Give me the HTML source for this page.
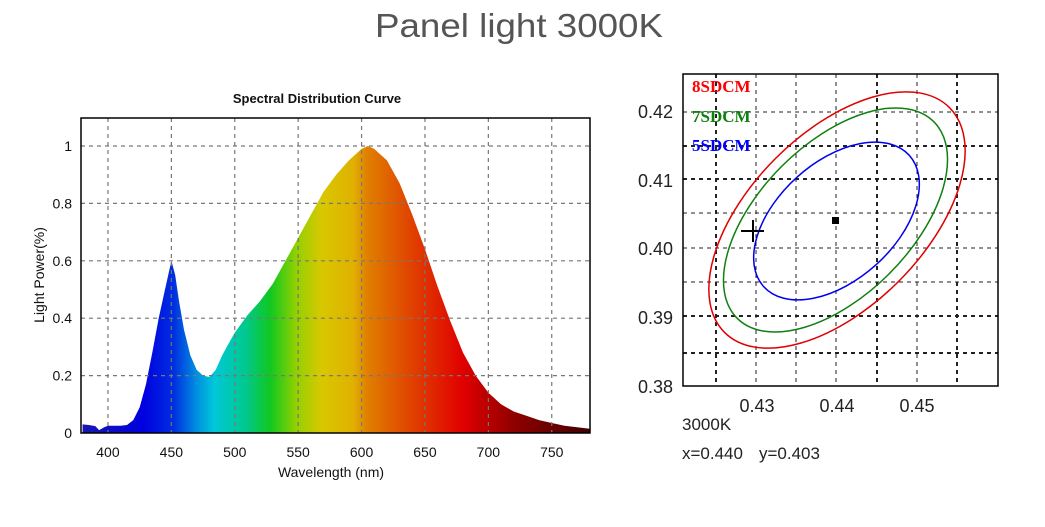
<!DOCTYPE html>
<html><head><meta charset="utf-8"><style>
body{margin:0;background:#fff;width:1045px;height:527px;overflow:hidden}
svg{display:block}
text{font-family:"Liberation Sans",sans-serif}
text.sf{font-family:"Liberation Serif",serif}
</style></head><body>
<svg id="s" width="1045" height="527" xmlns="http://www.w3.org/2000/svg">
<defs>
<linearGradient id="sp" x1="82.6" x2="590" y1="0" y2="0" gradientUnits="userSpaceOnUse">
<stop offset="0" stop-color="#1818b0"/>
<stop offset="0.12" stop-color="#0000e0"/>
<stop offset="0.18" stop-color="#0030e0"/>
<stop offset="0.225" stop-color="#0090e0"/>
<stop offset="0.26" stop-color="#00c8d8"/>
<stop offset="0.32" stop-color="#00c890"/>
<stop offset="0.37" stop-color="#10c820"/>
<stop offset="0.42" stop-color="#90d000"/>
<stop offset="0.47" stop-color="#d8c800"/>
<stop offset="0.535" stop-color="#e0b000"/>
<stop offset="0.56" stop-color="#e08000"/>
<stop offset="0.65" stop-color="#e04000"/>
<stop offset="0.75" stop-color="#e00000"/>
<stop offset="0.85" stop-color="#900000"/>
<stop offset="1" stop-color="#400000"/>
</linearGradient>
</defs>
<text x="519" y="37" font-size="33" fill="#555" text-anchor="middle" textLength="288" lengthAdjust="spacingAndGlyphs">Panel light 3000K</text>

<!-- left chart -->
<text x="317" y="103" font-size="13" font-weight="bold" text-anchor="middle" fill="#111">Spectral Distribution Curve</text>
<path id="curve" fill="url(#sp)" d=""/>
<g id="lgrid" stroke="#777" stroke-width="1.2" stroke-dasharray="4,4"></g>
<rect x="81" y="118" width="509" height="315" fill="none" stroke="#000" stroke-width="1.5"/>
<g id="llab" font-size="14" fill="#111"></g>
<text x="331" y="477" font-size="14" text-anchor="middle" fill="#111">Wavelength  (nm)</text>
<text transform="translate(44,275) rotate(-90)" font-size="14" text-anchor="middle" fill="#111">Light Power(%)</text>

<!-- right chart -->
<g id="rgrid" stroke="#222" stroke-dasharray="4,4"></g>
<rect x="683" y="74" width="315" height="312" fill="none" stroke="#000" stroke-width="1.5"/>
<ellipse cx="837" cy="220" rx="159" ry="87" transform="rotate(-45 837 220)" fill="none" stroke="#e00000" stroke-width="1.5"/>
<ellipse cx="835.5" cy="220" rx="139" ry="76" transform="rotate(-45 835.5 220)" fill="none" stroke="#108010" stroke-width="1.5"/>
<ellipse cx="836.5" cy="221" rx="98" ry="59" transform="rotate(-42 836.5 221)" fill="none" stroke="#0000ee" stroke-width="1.5"/>
<rect x="832" y="217" width="7" height="7" fill="#000"/>
<path d="M741 231H764M753 220V242" stroke="#000" stroke-width="2"/>
<g font-weight="bold" font-size="17">
<text class="sf" x="692" y="92" fill="#ff0000">8SDCM</text>
<text class="sf" x="692" y="122" fill="#108010">7SDCM</text>
<text class="sf" x="692" y="151" fill="#0000ff">5SDCM</text>
</g>
<g font-size="18" fill="#222" text-anchor="end">
<text x="673" y="118">0.42</text><text x="673" y="187">0.41</text><text x="673" y="255">0.40</text><text x="673" y="324">0.39</text><text x="673" y="393">0.38</text>
</g>
<g font-size="18" fill="#222" text-anchor="middle">
<text x="757" y="412">0.43</text><text x="837" y="412">0.44</text><text x="917" y="412">0.45</text>
</g>
<text x="682" y="430" font-size="17" fill="#222">3000K</text>
<text x="682" y="459" font-size="17" fill="#222">x=0.440</text>
<text x="759" y="459" font-size="17" fill="#222">y=0.403</text>
</svg>
<script>
var d=[[380,.03],[385,.028],[390,.024],[393,.01],[397,.02],[400,.025],[410,.025],[415,.028],[420,.045],[425,.09],[430,.17],[435,.28],[440,.4],[445,.5],[450,.6],[453,.55],[456,.46],[460,.36],[465,.27],[470,.22],[475,.2],[480,.195],[485,.22],[490,.27],[495,.31],[500,.35],[510,.41],[520,.46],[530,.52],[540,.6],[550,.68],[560,.76],[570,.84],[580,.9],[590,.95],[600,.99],[605,1.0],[610,.99],[620,.95],[630,.87],[640,.76],[650,.64],[660,.51],[670,.39],[680,.28],[690,.2],[700,.14],[710,.1],[720,.075],[730,.06],[740,.045],[750,.035],[760,.025],[770,.02],[780,.015]];
function X(n){return 82.6+(n-380)*1.268}function Y(v){return 433-v*287}
var p="M"+X(380)+" 433";d.forEach(function(a){p+="L"+X(a[0]).toFixed(1)+" "+Y(a[1]).toFixed(1)});p+="L"+X(780)+" 433Z";
document.getElementById("curve").setAttribute("d",p);
var ns="http://www.w3.org/2000/svg";
function L(g,x1,y1,x2,y2,w){var l=document.createElementNS(ns,"line");l.setAttribute("x1",x1);l.setAttribute("y1",y1);l.setAttribute("x2",x2);l.setAttribute("y2",y2);if(w)l.setAttribute("stroke-width",w);g.appendChild(l)}
function T(g,x,y,s,a){var t=document.createElementNS(ns,"text");t.setAttribute("x",x);t.setAttribute("y",y);t.setAttribute("text-anchor",a);t.textContent=s;g.appendChild(t)}
var lg=document.getElementById("lgrid"),ll=document.getElementById("llab");
for(var n=400;n<=750;n+=50){L(lg,X(n),118,X(n),433);T(ll,X(n),457,n,"middle")}
[0,.2,.4,.6,.8,1].forEach(function(v){if(v>0)L(lg,81,Y(v),590,Y(v));T(ll,72,Y(v)+5,v==0?"0":(v==1?"1":v.toFixed(1)),"end")});
var rg=document.getElementById("rgrid");
[[716,2],[756,1],[796,1],[836,1],[877,2],[917,1],[957,2]].forEach(function(a){L(rg,a[0],74,a[0],386,a[1])});
[[112,1],[146,2],[179,2],[213,1],[248,1],[282,1],[316,2],[353,2]].forEach(function(a){L(rg,683,a[0],998,a[0],a[1])});
</script>
</body></html>
